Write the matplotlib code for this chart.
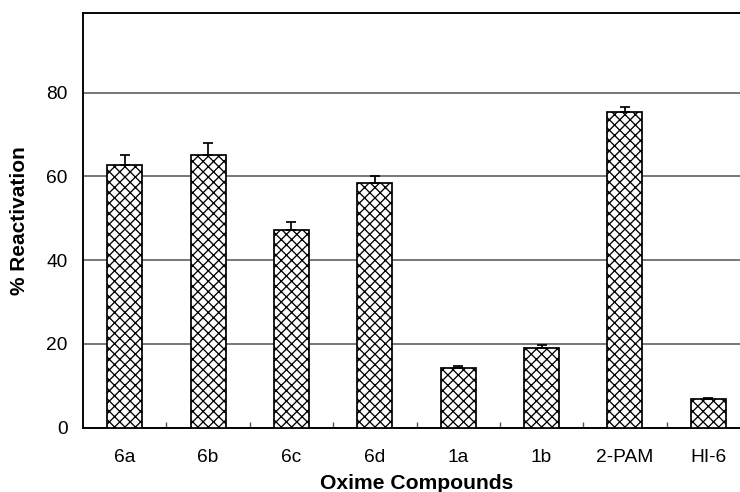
import matplotlib
matplotlib.use("Agg")
import matplotlib.pyplot as plt
import numpy as np

categories = ["6a", "6b", "6c", "6d", "1a", "1b", "2-PAM", "HI-6"]
values = [62.7, 65.2, 47.3, 58.3, 14.2, 19.1, 75.3, 6.8]
errors = [2.3, 2.7, 1.7, 1.9, 0.6, 0.7, 1.3, 0.4]
yticks = [0, 20, 40, 60, 80]

plt.rcParams['font.family'] = ['Liberation Sans', 'DejaVu Sans']
plt.rcParams['hatch.linewidth'] = 0.75
plt.rcParams['hatch.color'] = 'black'

DPI = 125
fig = plt.figure(figsize=(740 / DPI, 492 / DPI), dpi=DPI)
ax = fig.add_axes([83 / 740, 1 - 427.7 / 492, 667 / 740, (427.7 - 13) / 492])

x = np.arange(len(categories))
ax.bar(x, values, width=0.42, color='white', edgecolor='black', linewidth=1.0,
       hatch='xxxx', zorder=3)
ax.errorbar(x, values, yerr=[np.zeros(len(errors)), errors], fmt='none',
            ecolor='black', elinewidth=1.0, capsize=3, capthick=1.0, zorder=4)

ax.set_xlim(-0.5, 7.5)
ax.set_ylim(0, 99)
ax.set_yticks(yticks)
ax.set_xticks(x)
ax.set_xticklabels(categories)
ax.set_xticks(np.arange(0.5, 7.5, 1.0), minor=True)
ax.tick_params(axis='x', which='major', length=0, pad=12, labelsize=11)
ax.tick_params(axis='x', which='minor', direction='in', length=3.5, width=0.8, color='#555555')
ax.tick_params(axis='y', which='major', length=0, pad=9, labelsize=11)

ax.yaxis.grid(True, color='#555555', linewidth=0.9, zorder=0)
ax.set_axisbelow(True)
for s in ['left', 'bottom', 'top']:
    ax.spines[s].set_color('black')
    ax.spines[s].set_linewidth(1.1)
ax.spines['right'].set_visible(False)

ax.set_ylabel('% Reactivation', fontsize=12, fontweight='bold', labelpad=10)
ax.set_xlabel('Oxime Compounds', fontsize=12.2, fontweight='bold', labelpad=5)

fig.savefig('out.png', dpi=DPI)
